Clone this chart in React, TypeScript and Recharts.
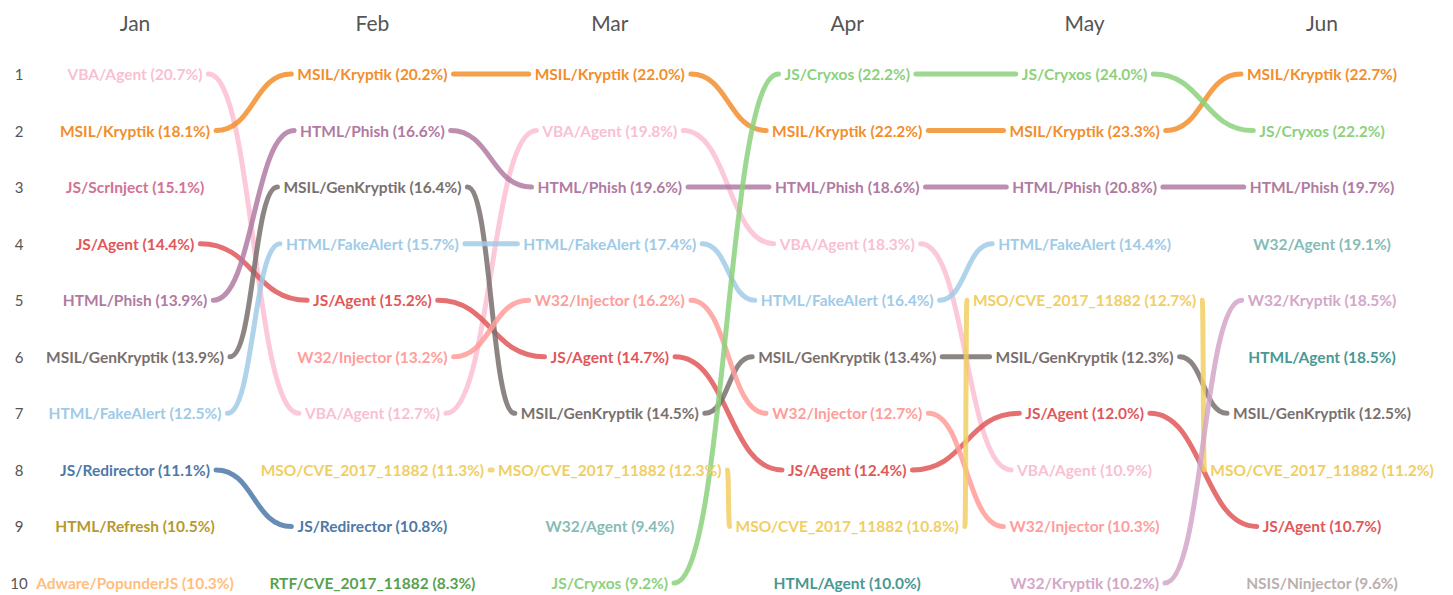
import React from 'react';
import { LineChart, Line, XAxis, YAxis } from 'recharts';

const months = ['Jan', 'Feb', 'Mar', 'Apr', 'May', 'Jun'];
const rankTicks = [1, 2, 3, 4, 5, 6, 7, 8, 9, 10];

// top 10 per month, in rank order, with share of detections
const janTop = ['VBA/Agent', 'MSIL/Kryptik', 'JS/ScrInject', 'JS/Agent', 'HTML/Phish', 'MSIL/GenKryptik', 'HTML/FakeAlert', 'JS/Redirector', 'HTML/Refresh', 'Adware/PopunderJS'];
const janShare = [20.7, 18.1, 15.1, 14.4, 13.9, 13.9, 12.5, 11.1, 10.5, 10.3];

const febTop = ['MSIL/Kryptik', 'HTML/Phish', 'MSIL/GenKryptik', 'HTML/FakeAlert', 'JS/Agent', 'W32/Injector', 'VBA/Agent', 'MSO/CVE_2017_11882', 'JS/Redirector', 'RTF/CVE_2017_11882'];
const febShare = [20.2, 16.6, 16.4, 15.7, 15.2, 13.2, 12.7, 11.3, 10.8, 8.3];

const marTop = ['MSIL/Kryptik', 'VBA/Agent', 'HTML/Phish', 'HTML/FakeAlert', 'W32/Injector', 'JS/Agent', 'MSIL/GenKryptik', 'MSO/CVE_2017_11882', 'W32/Agent', 'JS/Cryxos'];
const marShare = [22.0, 19.8, 19.6, 17.4, 16.2, 14.7, 14.5, 12.3, 9.4, 9.2];

const aprTop = ['JS/Cryxos', 'MSIL/Kryptik', 'HTML/Phish', 'VBA/Agent', 'HTML/FakeAlert', 'MSIL/GenKryptik', 'W32/Injector', 'JS/Agent', 'MSO/CVE_2017_11882', 'HTML/Agent'];
const aprShare = [22.2, 22.2, 18.6, 18.3, 16.4, 13.4, 12.7, 12.4, 10.8, 10.0];

const mayTop = ['JS/Cryxos', 'MSIL/Kryptik', 'HTML/Phish', 'HTML/FakeAlert', 'MSO/CVE_2017_11882', 'MSIL/GenKryptik', 'JS/Agent', 'VBA/Agent', 'W32/Injector', 'W32/Kryptik'];
const mayShare = [24.0, 23.3, 20.8, 14.4, 12.7, 12.3, 12.0, 10.9, 10.3, 10.2];

const junTop = ['MSIL/Kryptik', 'JS/Cryxos', 'HTML/Phish', 'W32/Agent', 'W32/Kryptik', 'HTML/Agent', 'MSIL/GenKryptik', 'MSO/CVE_2017_11882', 'JS/Agent', 'NSIS/Ninjector'];
const junShare = [22.7, 22.2, 19.7, 19.1, 18.5, 18.5, 12.5, 11.2, 10.7, 9.6];

const monthTops = [janTop, febTop, marTop, aprTop, mayTop, junTop];
const monthShares = [janShare, febShare, marShare, aprShare, mayShare, junShare];

const families = [
  'VBA/Agent', 'MSIL/Kryptik', 'JS/ScrInject', 'JS/Agent', 'HTML/Phish', 'MSIL/GenKryptik',
  'HTML/FakeAlert', 'JS/Redirector', 'HTML/Refresh', 'Adware/PopunderJS', 'W32/Injector',
  'MSO/CVE_2017_11882', 'RTF/CVE_2017_11882', 'W32/Agent', 'JS/Cryxos', 'HTML/Agent',
  'W32/Kryptik', 'NSIS/Ninjector',
];
const familyColors = [
  '#fabfd2', '#f28e2b', '#d37295', '#e15759', '#b07aa1', '#79706e',
  '#a0cbe8', '#4e79a7', '#b6992d', '#ffbe7d', '#ff9d9a',
  '#f1ce63', '#59a14f', '#86bcb6', '#8cd17d', '#499894',
  '#d4a6c8', '#bab0ac',
];

const LABEL_FAMILY = 'Lato';
const LABEL_SIZE = 15.5;
const LABEL_WEIGHT = 700;
const LINE_GAP = 6;

const rows = months.map((month, m) => {
  const rank: Record<string, number> = {};
  const share: Record<string, number> = {};
  monthTops[m].forEach((fam, i) => {
    rank[fam] = i + 1;
    share[fam] = monthShares[m][i];
  });
  return { m, month, rank, share };
});

const labelText = (fam: string, share: number) => `${fam} (${share.toFixed(1)}%)`;

let measureCtx: CanvasRenderingContext2D | null = null;
function textWidth(s: string) {
  if (!measureCtx) measureCtx = document.createElement('canvas').getContext('2d');
  if (!measureCtx) return s.length * 8;
  measureCtx.font = `${LABEL_WEIGHT} ${LABEL_SIZE}px ${LABEL_FAMILY}`;
  return measureCtx.measureText(s).width;
}

// bump curve that runs from the right edge of one label to the left edge of the next
const bumpBetweenLabels = (halfWidths: number[]) => (context: any) => {
  let idx = 0;
  let prev: number[] | null = null;
  return {
    areaStart() {},
    areaEnd() {},
    lineStart() { prev = null; },
    lineEnd() { prev = null; },
    point(x: number, y: number) {
      const hw = halfWidths[idx++] || 0;
      if (prev) {
        const x0 = prev[0];
        const y0 = prev[1];
        const x1 = x - hw;
        if (x1 > x0) {
          const mx = (x0 + x1) / 2;
          context.moveTo(x0, y0);
          context.bezierCurveTo(mx, y0, mx, y, x1, y);
        } else {
          const mx = (x0 + x1) / 2;
          context.moveTo(mx, y);
          context.lineTo(mx, y);
        }
      }
      prev = [x + hw, y];
    },
  };
};

const MonthTick = (props: any) => {
  const { x, payload } = props;
  return (
    <text x={x} y={22} textAnchor="middle" dominantBaseline="central" fill="#555" fontFamily="Lato" fontSize={21}>
      {months[payload.value]}
    </text>
  );
};

const RankTick = (props: any) => {
  const { y, payload } = props;
  return (
    <text x={19} y={y} textAnchor="middle" dominantBaseline="central" fill="#555" fontFamily="Lato" fontSize={15}>
      {payload.value}
    </text>
  );
};

const renderLabel = (fam: string, color: string) => (props: any) => {
  const { cx, cy, index, payload } = props;
  const key = `${fam}-${index}`;
  if (cx == null || cy == null || !payload || payload.rank[fam] == null) return <g key={key} />;
  return (
    <text key={key} x={cx} y={cy} textAnchor="middle" dominantBaseline="central" fill={color}
      fontFamily={LABEL_FAMILY} fontWeight={LABEL_WEIGHT} fontSize={LABEL_SIZE}>
      {labelText(fam, payload.share[fam])}
    </text>
  );
};

export default function App() {
  return (
    <div style={{ position: 'absolute', left: 0, top: 0, width: 1453, height: 595, background: '#fff' }}>
      <LineChart width={1453} height={595} data={rows} margin={{ top: 0, right: 131, bottom: 12, left: 0 }}>
        <XAxis type="number" dataKey="m" domain={[0, 5]} ticks={[0, 1, 2, 3, 4, 5]} interval={0}
          orientation="top" height={74} axisLine={false} tickLine={false} tick={MonthTick} />
        <YAxis type="number" domain={[1, 10]} reversed ticks={rankTicks} interval={0}
          width={135} axisLine={false} tickLine={false} tick={RankTick} />
        {families.map((fam, f) => {
          const color = familyColors[f];
          const halfWidths = rows
            .filter((r) => r.rank[fam] != null)
            .map((r) => textWidth(labelText(fam, r.share[fam])) / 2 + LINE_GAP);
          return (
            <Line key={fam} dataKey={(r: any) => r.rank[fam] ?? null} type={bumpBetweenLabels(halfWidths) as any}
              stroke={color} strokeWidth={5} strokeLinecap="round" strokeOpacity={0.85}
              dot={renderLabel(fam, color)} activeDot={false} connectNulls={false} isAnimationActive={false} />
          );
        })}
      </LineChart>
    </div>
  );
}
